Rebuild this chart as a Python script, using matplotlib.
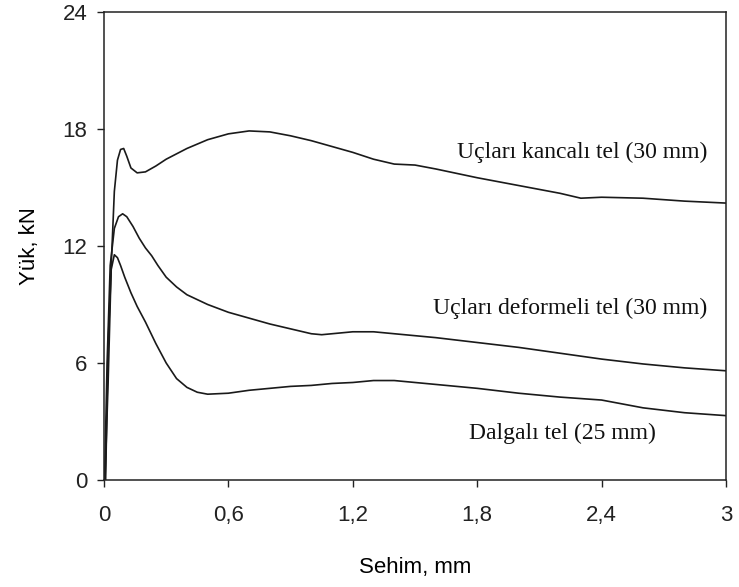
import matplotlib
matplotlib.use("Agg")
import matplotlib.pyplot as plt

# load-deflection curves
x_hooked = [0.005, 0.02, 0.035, 0.05, 0.065, 0.08, 0.095, 0.11, 0.13, 0.16, 0.2, 0.25,
            0.3, 0.4, 0.5, 0.6, 0.7, 0.8, 0.9, 1.0, 1.1, 1.2, 1.3, 1.4, 1.5, 1.6,
            1.8, 2.0, 2.2, 2.3, 2.4, 2.6, 2.8, 3.0]
y_hooked = [0, 5, 11, 14.8, 16.4, 16.95, 17.0, 16.6, 16.0, 15.75, 15.8, 16.1,
            16.45, 17.0, 17.45, 17.75, 17.9, 17.85, 17.65, 17.4, 17.1, 16.8, 16.45, 16.2, 16.15, 15.95,
            15.5, 15.1, 14.7, 14.45, 14.5, 14.45, 14.3, 14.2]

x_deformed = [0.003, 0.015, 0.03, 0.05, 0.07, 0.09, 0.11, 0.14, 0.17, 0.2, 0.23, 0.26,
              0.3, 0.35, 0.4, 0.5, 0.6, 0.7, 0.8, 0.9, 1.0, 1.05, 1.1, 1.2, 1.3, 1.4,
              1.6, 1.8, 2.0, 2.2, 2.4, 2.6, 2.8, 3.0]
y_deformed = [0, 6, 11, 12.9, 13.5, 13.65, 13.5, 13.0, 12.4, 11.9, 11.5, 11.0,
              10.4, 9.9, 9.5, 9.0, 8.6, 8.3, 8.0, 7.75, 7.5, 7.45, 7.5, 7.6, 7.6, 7.5,
              7.3, 7.05, 6.8, 6.5, 6.2, 5.95, 5.75, 5.6]

x_wavy = [0.008, 0.02, 0.035, 0.05, 0.065, 0.08, 0.1, 0.13, 0.16, 0.2, 0.25, 0.3,
          0.35, 0.4, 0.45, 0.5, 0.6, 0.7, 0.8, 0.9, 1.0, 1.1, 1.2, 1.3, 1.4, 1.5,
          1.6, 1.8, 2.0, 2.2, 2.4, 2.5, 2.6, 2.8, 3.0]
y_wavy = [0, 7, 10.8, 11.55, 11.4, 11.0, 10.4, 9.6, 8.9, 8.1, 7.0, 6.0,
          5.2, 4.75, 4.5, 4.4, 4.45, 4.6, 4.7, 4.8, 4.85, 4.95, 5.0, 5.1, 5.1, 5.0,
          4.9, 4.7, 4.45, 4.25, 4.1, 3.9, 3.7, 3.45, 3.3]

curve_labels = ["Uçları kancalı tel (30 mm)", "Uçları deformeli tel (30 mm)", "Dalgalı tel (25 mm)"]
label_y = [16.8, 8.8, 2.4]

x_ticks = [0, 0.6, 1.2, 1.8, 2.4, 3]
x_tick_labels = ["0", "0,6", "1,2", "1,8", "2,4", "3"]
y_ticks = [0, 6, 12, 18, 24]

plt.rcParams['font.family'] = ['Liberation Sans', 'DejaVu Sans']

fig = plt.figure(figsize=(7.39, 5.87), dpi=100)
ax = fig.add_axes([0.1407, 0.1823, 0.8417, 0.7973])

line_kw = dict(color='#1a1a1a', linewidth=1.2)
ax.plot(x_hooked, y_hooked, **line_kw)
ax.plot(x_deformed, y_deformed, **line_kw)
ax.plot(x_wavy, y_wavy, **line_kw)

# curve labels in a serif face, right aligned
label_x = [2.91, 2.91, 2.66]
for lx, ly, txt in zip(label_x, label_y, curve_labels):
    ax.text(lx, ly, txt, ha='right', va='center', fontsize=17,
            family=['Liberation Serif', 'DejaVu Serif'], color='#111111')

ax.set_xlim(0, 3)
ax.set_ylim(0, 24)
ax.set_xticks(x_ticks)
ax.set_xticklabels(x_tick_labels)
ax.set_yticks(y_ticks)

ax.tick_params(axis='both', direction='out', length=5, width=1, labelsize=16, colors='#222222')
ax.tick_params(axis='x', pad=13)
ax.tick_params(axis='y', pad=7)
for sp in ax.spines.values():
    sp.set_linewidth(1.1)
    sp.set_color('#222222')

ax.set_xlabel("Sehim, mm", fontsize=16, labelpad=22)
ax.set_ylabel("Yük, kN", fontsize=16, labelpad=16)

fig.savefig("out.png", dpi=100)
